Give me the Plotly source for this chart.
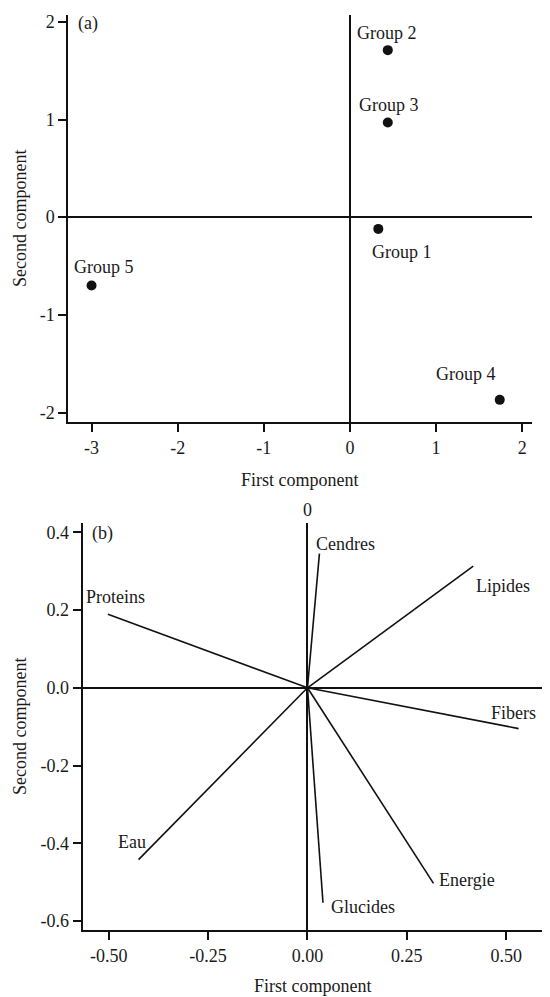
import plotly.graph_objects as go

# ---------------- data ----------------
group_names = ["Group 1", "Group 2", "Group 3", "Group 4", "Group 5"]
group_pc1 = [0.33, 0.44, 0.44, 1.74, -3.00]
group_pc2 = [-0.12, 1.71, 0.97, -1.87, -0.70]

var_names = ["Cendres", "Lipides", "Proteins", "Fibers", "Eau", "Glucides", "Energie"]
var_pc1 = [0.030, 0.417, -0.502, 0.531, -0.425, 0.039, 0.317]
var_pc2 = [0.345, 0.313, 0.189, -0.105, -0.442, -0.553, -0.503]

top_xticks = [-3, -2, -1, 0, 1, 2]
top_yticks = [-2, -1, 0, 1, 2]
bot_xticks = [-0.50, -0.25, 0.00, 0.25, 0.50]
bot_yticks = [-0.6, -0.4, -0.2, 0.0, 0.2, 0.4]

# ---------------- style ----------------
PAGE_W, PAGE_H = 550, 997
OFF = 8  # default body margin of the html page
W, H = PAGE_W - OFF, PAGE_H - OFF
FONT = "Liberation Serif"
TXT = "#1a1a1a"
LINE = "#111111"
FS = 18

# label offsets (px) relative to point / arrow end: (dx, dy_up)
group_offsets = {
    "Group 1": (24, -23), "Group 2": (-1, 17), "Group 3": (1, 17),
    "Group 4": (-34, 26), "Group 5": (12, 19),
}
var_offsets = {
    "Cendres": (26, 10), "Lipides": (30, -20), "Proteins": (8, 17),
    "Fibers": (-5, 16), "Eau": (-7, 18), "Glucides": (40, -4), "Energie": (33, 3),
}

# page pixel -> paper fraction
def px_x(p):
    return (p - OFF) / W

def px_y(p):
    return (H - (p - OFF)) / H

def fmt(v, d):
    return f"{v:.{d}f}"

fig = go.Figure()

# top: scores
fig.add_trace(go.Scatter(
    x=group_pc1, y=group_pc2, mode="markers",
    marker=dict(size=10, color=LINE), xaxis="x", yaxis="y",
    showlegend=False, hoverinfo="skip"))

# bottom: loadings as lines from origin
for n, a, b in zip(var_names, var_pc1, var_pc2):
    fig.add_trace(go.Scatter(
        x=[0, a], y=[0, b], mode="lines",
        line=dict(color=LINE, width=1.6), xaxis="x2", yaxis="y2",
        showlegend=False, hoverinfo="skip"))

annotations = []
for n, a, b in zip(group_names, group_pc1, group_pc2):
    dx, dy = group_offsets[n]
    annotations.append(dict(x=a, y=b, xref="x", yref="y", text=n, showarrow=False,
                            xshift=dx, yshift=dy, font=dict(family=FONT, size=FS, color=TXT)))
for n, a, b in zip(var_names, var_pc1, var_pc2):
    dx, dy = var_offsets[n]
    annotations.append(dict(x=a, y=b, xref="x2", yref="y2", text=n, showarrow=False,
                            xshift=dx, yshift=dy, font=dict(family=FONT, size=FS, color=TXT)))

def paper_text(text, x, y, xanchor="center", angle=0):
    return dict(x=px_x(x), y=px_y(y), xref="paper", yref="paper", text=text,
                showarrow=False, xanchor=xanchor, yanchor="middle", textangle=angle,
                font=dict(family=FONT, size=FS, color=TXT))

annotations += [
    paper_text("(a)", 88, 24),
    paper_text("(b)", 102, 533),
    paper_text("0", 307.5, 510),
    paper_text("0", 548, 687, xanchor="left"),
    paper_text("First component", 300, 480),
    paper_text("First component", 313, 986),
    paper_text("Second component", 20, 219, angle=-90),
    paper_text("Second component", 20, 727, angle=-90),
]

axis_common = dict(
    showline=True, linecolor=LINE, linewidth=2,
    ticks="outside", ticklen=8, tickwidth=2, tickcolor=LINE,
    tickfont=dict(family=FONT, size=FS, color=TXT),
    showgrid=False, zeroline=True, zerolinecolor=LINE, zerolinewidth=1.6,
    automargin=False, fixedrange=True,
)

fig.update_layout(
    width=W, height=H,
    margin=dict(l=0, r=0, t=0, b=0),
    paper_bgcolor="white", plot_bgcolor="white",
    font=dict(family=FONT, size=FS, color=TXT),
    xaxis=dict(domain=[px_x(68.3), px_x(531.6)], range=[-3.27, 2.11], anchor="y",
               tickvals=top_xticks, ticktext=[str(v) for v in top_xticks], **axis_common),
    yaxis=dict(domain=[px_y(422.3), px_y(15)], range=[-2.10, 2.07], anchor="x",
               tickvals=top_yticks, ticktext=[str(v) for v in top_yticks], **axis_common),
    xaxis2=dict(domain=[px_x(82.5), px_x(545.6)], range=[-0.566, 0.599], anchor="y2",
                tickvals=bot_xticks, ticktext=[fmt(v, 2) for v in bot_xticks], **axis_common),
    yaxis2=dict(domain=[px_y(930), px_y(523.3)], range=[-0.623, 0.423], anchor="x2",
                tickvals=bot_yticks, ticktext=[fmt(v, 1) for v in bot_yticks], **axis_common),
    annotations=annotations,
)

fig.write_html("out.html")
